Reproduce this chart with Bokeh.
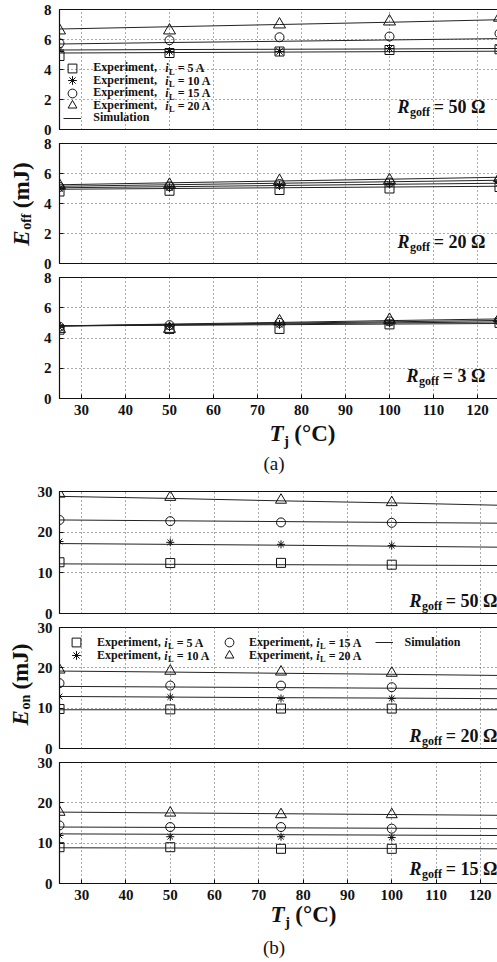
import math
from bokeh.plotting import figure
from bokeh.layouts import column, row
from bokeh.models import Range1d, Label, Legend, LegendItem, FixedTicker
from bokeh.core.properties import value
from bokeh.embed import file_html
from bokeh.resources import INLINE

FONT = "Liberation Serif"

# ---------------- data ----------------
T = [25, 50, 75, 100, 125]
x_ticks = [30, 40, 50, 60, 70, 80, 90, 100, 110, 120]
eoff_ticks = [0, 2, 4, 6, 8]
eon_ticks = [0, 10, 20, 30]
currents = ["5", "10", "15", "20"]

# E_off, Rgoff = 50 ohm
eoff50_exp_5 = [4.9, 5.1, 5.2, 5.3, 5.35]
eoff50_exp_10 = [5.3, 5.2, 5.2, 5.4, 5.4]
eoff50_exp_15 = [5.75, 5.95, 6.15, 6.2, 6.4]
eoff50_exp_20 = [6.6, 6.6, 7.0, 7.2, 7.45]
eoff50_sim_5 = [5.1, 5.13, 5.16, 5.19, 5.22]
eoff50_sim_10 = [5.3, 5.33, 5.35, 5.37, 5.4]
eoff50_sim_15 = [5.7, 5.8, 5.88, 5.97, 6.06]
eoff50_sim_20 = [6.7, 6.85, 7.0, 7.15, 7.32]

# E_off, Rgoff = 20 ohm
eoff20_exp_5 = [4.8, 4.85, 4.9, 5.0, 5.1]
eoff20_exp_10 = [5.0, 5.05, 5.2, 5.3, 5.4]
eoff20_exp_15 = [5.1, 5.15, 5.3, 5.4, 5.55]
eoff20_exp_20 = [5.2, 5.25, 5.5, 5.55, 5.7]
eoff20_sim_5 = [4.95, 5.0, 5.05, 5.1, 5.15]
eoff20_sim_10 = [5.05, 5.12, 5.2, 5.28, 5.35]
eoff20_sim_15 = [5.15, 5.25, 5.35, 5.45, 5.55]
eoff20_sim_20 = [5.25, 5.38, 5.5, 5.62, 5.75]

# E_off, Rgoff = 3 ohm
eoff3_exp_5 = [4.55, 4.6, 4.6, 4.9, 5.0]
eoff3_exp_10 = [4.7, 4.75, 4.9, 5.0, 5.1]
eoff3_exp_15 = [4.75, 4.85, 5.0, 5.1, 5.2]
eoff3_exp_20 = [4.6, 4.6, 5.1, 5.2, 5.3]
eoff3_sim_5 = [4.8, 4.84, 4.88, 4.92, 4.96]
eoff3_sim_10 = [4.8, 4.86, 4.93, 5.0, 5.06]
eoff3_sim_15 = [4.8, 4.89, 4.98, 5.07, 5.16]
eoff3_sim_20 = [4.8, 4.92, 5.03, 5.15, 5.26]

# E_on, Rgoff = 50 ohm
eon50_exp_5 = [12.6, 12.4, 12.45, 12.0, 11.9]
eon50_exp_10 = [17.7, 17.5, 17.0, 16.7, 16.4]
eon50_exp_15 = [23.0, 22.7, 22.4, 22.3, 22.0]
eon50_exp_20 = [29.4, 28.6, 27.9, 27.3, 26.5]
eon50_sim_5 = [12.2, 12.1, 12.0, 11.9, 11.8]
eon50_sim_10 = [17.2, 17.0, 16.8, 16.55, 16.3]
eon50_sim_15 = [23.0, 22.8, 22.6, 22.4, 22.2]
eon50_sim_20 = [28.8, 28.3, 27.7, 27.2, 26.6]

# E_on, Rgoff = 20 ohm
eon20_exp_5 = [9.8, 9.7, 9.9, 9.9, 9.6]
eon20_exp_10 = [12.9, 12.75, 12.4, 12.4, 12.3]
eon20_exp_15 = [16.2, 15.6, 15.6, 15.2, 14.9]
eon20_exp_20 = [19.5, 19.2, 19.0, 18.7, 18.2]
eon20_sim_5 = [9.6, 9.6, 9.6, 9.6, 9.6]
eon20_sim_10 = [12.9, 12.75, 12.6, 12.5, 12.35]
eon20_sim_15 = [15.4, 15.25, 15.1, 14.95, 14.8]
eon20_sim_20 = [19.2, 18.95, 18.65, 18.4, 18.1]

# E_on, Rgoff = 15 ohm
eon15_exp_5 = [9.0, 9.0, 8.6, 8.6, 8.6]
eon15_exp_10 = [11.9, 11.6, 11.6, 11.4, 11.9]
eon15_exp_15 = [14.4, 14.0, 14.0, 13.6, 13.6]
eon15_exp_20 = [17.7, 17.5, 17.1, 17.1, 16.9]
eon15_sim_5 = [8.85, 8.8, 8.75, 8.7, 8.6]
eon15_sim_10 = [12.3, 12.2, 12.1, 12.0, 11.9]
eon15_sim_15 = [14.0, 13.9, 13.8, 13.7, 13.6]
eon15_sim_20 = [17.7, 17.5, 17.3, 17.1, 16.9]

# ---------------- helpers ----------------
W_B = {" ": 250, ",": 250, "=": 570, "(": 333, ")": 333, "A": 722, "C": 722, "E": 667,
       "J": 500, "L": 667, "R": 722, "S": 556, "T": 667, "a": 500, "e": 444, "f": 333,
       "g": 500, "i": 278, "j": 333, "l": 278, "m": 833, "n": 556, "o": 500, "p": 556,
       "r": 444, "t": 333, "u": 556, "x": 500, "\u00b0": 400, "\u03a9": 768}
W_BI = {"E": 667, "R": 667, "T": 611, "i": 278}

LEG_FS = 12
STRIP_W = 34


def tw(s, size, italic=False):
    tab = W_BI if italic else W_B
    return sum(tab.get(c, 500) for c in s) * size / 1000.0


def lab(p, x, y, text, size, style="bold", align="left", angle=0.0):
    p.add_layout(Label(x=x, y=y, x_units="screen", y_units="screen", text=text,
                       text_font=FONT, text_font_size=f"{size}px", text_font_style=style,
                       text_align=align, text_baseline="middle", angle=angle,
                       text_color="#111111"))


def rgoff(p, xr, yc, val):
    main = f"= {val} \u03a9"
    x = xr - tw(main, 18) - tw(" ", 18)
    lab(p, xr, yc, main, 18, "bold", "right")
    lab(p, x, yc - 5, "goff", 12, "bold", "right")
    lab(p, x - tw("goff", 12) - 0.5, yc, "R", 18, "bold italic", "right")


def legend_entry(p, r, xc, yc, text_x, cur=None, gw=22):
    # one-row legend: the glyph key and the first word are drawn by the Legend
    label = "Experiment," if cur is not None else "Simulation"
    standoff = int(round(text_x - (xc + gw / 2)))
    lg = Legend(items=[LegendItem(label=value(label), renderers=[r])],
                location=(xc - gw / 2, yc - 12), orientation="vertical",
                glyph_width=gw, glyph_height=24, spacing=0, padding=0, margin=0,
                label_standoff=standoff, label_height=0,
                label_text_font=FONT, label_text_font_style="bold",
                label_text_font_size=f"{LEG_FS}px", label_text_color="#111111",
                label_text_baseline="middle",
                border_line_color=None, background_fill_alpha=0)
    p.add_layout(lg)
    if cur is None:
        return
    x = xc + gw / 2 + standoff + tw("Experiment, ", LEG_FS)
    lab(p, x, yc, "i", LEG_FS, "bold italic")
    x += tw("i", LEG_FS, True) + 0.5
    lab(p, x, yc - 3.5, "L", 8.5)
    x += tw("L", 8.5) + tw(" ", LEG_FS)
    lab(p, x, yc, f"= {cur} A", LEG_FS)


def make_panel(ymax, yticks, frame_h, top, bottom, left, xend, show_x, standoff):
    p = figure(frame_width=440, frame_height=frame_h,
               x_range=Range1d(25, xend), y_range=Range1d(0, ymax),
               min_border_left=left, min_border_right=497 - STRIP_W - 440 - left,
               min_border_top=top, min_border_bottom=bottom,
               output_backend="svg", toolbar_location=None,
               background_fill_color="white", border_fill_color="white",
               outline_line_color="#111111", outline_line_width=1.2)
    p.xaxis.ticker = FixedTicker(ticks=x_ticks)
    p.yaxis.ticker = FixedTicker(ticks=yticks)
    for ax in (p.xaxis[0], p.yaxis[0]):
        ax.major_tick_in = 4
        ax.major_tick_out = 0
        ax.minor_tick_line_color = None
        ax.axis_line_color = "#111111"
        ax.major_tick_line_color = "#111111"
        ax.major_label_text_font = FONT
        ax.major_label_text_font_style = "bold"
        ax.major_label_text_font_size = "15px"
        ax.major_label_text_color = "#111111"
    p.yaxis.major_label_standoff = standoff
    p.xaxis.major_label_standoff = 6
    if not show_x:
        p.xaxis.visible = False
    p.grid.grid_line_color = "#555555"
    p.grid.grid_line_dash = "1 3"
    p.grid.grid_line_width = 1
    return p


def text_box(w, h):
    p = figure(frame_width=w, frame_height=h, x_range=Range1d(0, 1), y_range=Range1d(0, 1),
               x_axis_location=None, y_axis_location=None, min_border=0,
               output_backend="svg", toolbar_location=None, outline_line_color=None,
               background_fill_color="white", border_fill_color="white")
    p.grid.visible = False
    return p


MARKERS = ["square", "asterisk", "circle", "triangle"]


def draw(p, exps, sims, sizes):
    rs = []
    sim_r = None
    for sims_v in sims:
        sim_r = p.line(T, sims_v, line_color="#222222", line_width=1)
    for vals, m, s in zip(exps, MARKERS, sizes):
        r = p.scatter(T, vals, marker=m, size=s, line_color="#111111",
                      fill_color=None, line_width=1)
        rs.append(r)
    return rs, sim_r


A_SIZES = [9, 9, 9, 12]
B_SIZES = [9, 8, 9, 11]
LA = 56 - STRIP_W
LB = 57 - STRIP_W

# ---------------- (a) E_off ----------------
a1 = make_panel(8, eoff_ticks, 120, 9, 7, LA, 125, False, 8)
rs, sr = draw(a1, [eoff50_exp_5, eoff50_exp_10, eoff50_exp_15, eoff50_exp_20],
              [eoff50_sim_5, eoff50_sim_10, eoff50_sim_15, eoff50_sim_20], A_SIZES)
rows_a = [61.2, 48.7, 36.2, 23.7, 11.2]
for k, cur in enumerate(currents):
    legend_entry(a1, rs[k], 18, rows_a[k], 39, cur)
legend_entry(a1, sr, 18, rows_a[4], 39, None, gw=18)
rgoff(a1, 426, 22.5, "50")

a2 = make_panel(8, eoff_ticks, 120, 7, 7, LA, 125, False, 8)
draw(a2, [eoff20_exp_5, eoff20_exp_10, eoff20_exp_15, eoff20_exp_20],
     [eoff20_sim_5, eoff20_sim_10, eoff20_sim_15, eoff20_sim_20], A_SIZES)
rgoff(a2, 426, 22, "20")

a3 = make_panel(8, eoff_ticks, 121, 7, 22, LA, 125, True, 8)
draw(a3, [eoff3_exp_5, eoff3_exp_10, eoff3_exp_15, eoff3_exp_20],
     [eoff3_sim_5, eoff3_sim_10, eoff3_sim_15, eoff3_sim_20], A_SIZES)
rgoff(a3, 426, 23, "3")


def xtitle(p, cx, yc):
    wT = tw("T", 23, True)
    wj = tw("j", 15)
    wc = tw(" (\u00b0C)", 23)
    x0 = cx - (wT + wj + wc) / 2
    lab(p, x0, yc, "T", 23, "bold italic")
    lab(p, x0 + wT + 0.5, yc - 7, "j", 15)
    lab(p, x0 + wT + wj + tw(" ", 23), yc, "(\u00b0C)", 23)


a_bot = text_box(497 - STRIP_W, 64)
xtitle(a_bot, 277 - STRIP_W, 51)
lab(a_bot, 248.5 - STRIP_W, 21, "(a)", 19, "normal", "center")

# ---------------- (b) E_on ----------------
XB = 25 + 440 / 4.43
b1 = make_panel(30, eon_ticks, 122, 7, 7, LB, XB, False, 7)
draw(b1, [eon50_exp_5, eon50_exp_10, eon50_exp_15, eon50_exp_20],
     [eon50_sim_5, eon50_sim_10, eon50_sim_15, eon50_sim_20], B_SIZES)
rgoff(b1, 438, 12.5, "50")

b2 = make_panel(30, eon_ticks, 121, 7, 7, LB, XB, False, 7)
rs, sr = draw(b2, [eon20_exp_5, eon20_exp_10, eon20_exp_15, eon20_exp_20],
              [eon20_sim_5, eon20_sim_10, eon20_sim_15, eon20_sim_20], B_SIZES)
legend_entry(b2, rs[0], 17, 106, 38, "5")
legend_entry(b2, rs[1], 17, 93, 38, "10")
legend_entry(b2, rs[2], 170, 106, 190, "15")
legend_entry(b2, rs[3], 170, 93, 190, "20")
legend_entry(b2, sr, 324.5, 106, 346, None, gw=18)
rgoff(b2, 438, 12.5, "20")

b3 = make_panel(30, eon_ticks, 121, 7, 20, LB, XB, True, 7)
draw(b3, [eon15_exp_5, eon15_exp_10, eon15_exp_15, eon15_exp_20],
     [eon15_sim_5, eon15_sim_10, eon15_sim_15, eon15_sim_20], B_SIZES)
rgoff(b3, 438, 14.5, "15")

b_bot = text_box(497 - STRIP_W, 59)
xtitle(b_bot, 278 - STRIP_W, 48)
lab(b_bot, 248.5 - STRIP_W, 15.5, "(b)", 19, "normal", "center")

# ---------------- left strip with the y titles ----------------
strip = text_box(STRIP_W, 962)


def ytitle(p, xc, yc, sub):
    wE = tw("E", 23, True)
    ws = tw(sub, 14)
    wr = tw(" (mJ)", 23)
    y0 = yc - (wE + ws + wr) / 2
    lab(p, xc, y0, "E", 23, "bold italic", "left", math.pi / 2)
    lab(p, xc + 5, y0 + wE + 0.5, sub, 14, "bold", "left", math.pi / 2)
    lab(p, xc, y0 + wE + ws + tw(" ", 23), "(mJ)", 23, "bold", "left", math.pi / 2)


ytitle(strip, 21, 962 - 203.5, "off")
ytitle(strip, 20, 962 - 684, "on")

layout = row(strip, column(a1, a2, a3, a_bot, b1, b2, b3, b_bot, spacing=0), spacing=0)
open("out.html", "w").write(file_html(layout, INLINE))
